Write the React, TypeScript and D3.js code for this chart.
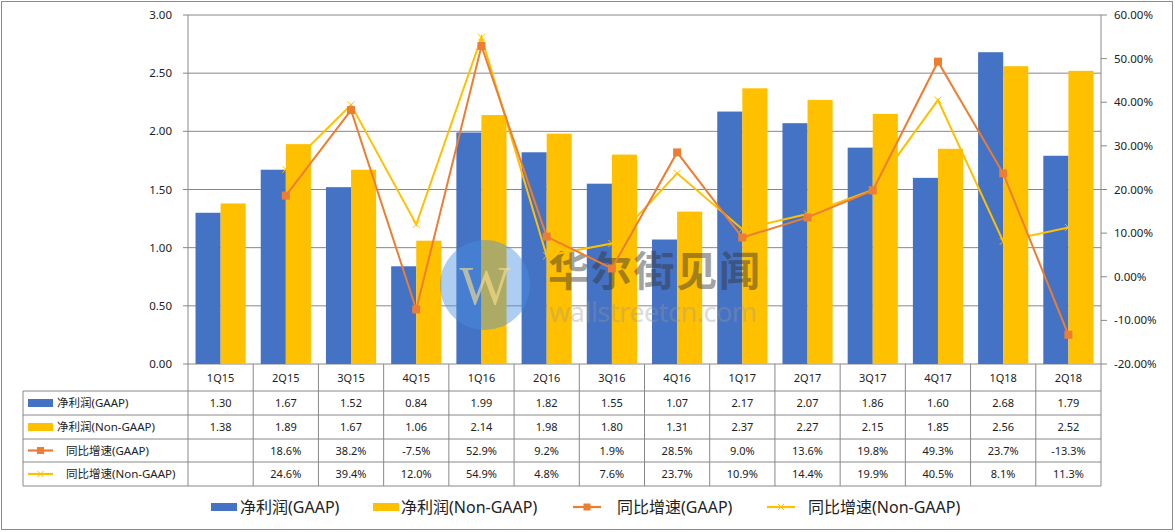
import * as d3 from 'd3';

const categories = ['1Q15', '2Q15', '3Q15', '4Q15', '1Q16', '2Q16', '3Q16', '4Q16', '1Q17', '2Q17', '3Q17', '4Q17', '1Q18', '2Q18'];
const netGaap = [1.30, 1.67, 1.52, 0.84, 1.99, 1.82, 1.55, 1.07, 2.17, 2.07, 1.86, 1.60, 2.68, 1.79];
const netNonGaap = [1.38, 1.89, 1.67, 1.06, 2.14, 1.98, 1.80, 1.31, 2.37, 2.27, 2.15, 1.85, 2.56, 2.52];
const growthGaap = [null, 18.6, 38.2, -7.5, 52.9, 9.2, 1.9, 28.5, 9.0, 13.6, 19.8, 49.3, 23.7, -13.3];
const growthNonGaap = [null, 24.6, 39.4, 12.0, 54.9, 4.8, 7.6, 23.7, 10.9, 14.4, 19.9, 40.5, 8.1, 11.3];
const leftTicks = [0, 0.5, 1, 1.5, 2, 2.5, 3];
const rightTicks = [-20, -10, 0, 10, 20, 30, 40, 50, 60];

const BLUE = '#4472C4';
const YELLOW = '#FFC000';
const ORANGE = '#ED7D31';
const GRID = '#888888';
const FONT = "'Noto Sans', 'Noto Sans CJK SC', sans-serif";

const seriesNames = ['净利润(GAAP)', '净利润(Non-GAAP)', '同比增速(GAAP)', '同比增速(Non-GAAP)'];

export default function App() {
  const W = 1175, H = 532;
  const left = 188, right = 1101, top = 15, bottom = 364;

  const x = d3.scaleBand<string>().domain(categories).range([left, right]);
  const sub = d3.scaleBand<string>().domain(['g', 'n']).range([0, x.bandwidth()]).paddingOuter(0.3);
  const y = d3.scaleLinear().domain([0, 3]).range([bottom, top]);
  const y2 = d3.scaleLinear().domain([-20, 60]).range([bottom, top]);

  const cx = (i: number) => (x(categories[i]) as number) + x.bandwidth() / 2;
  const line = d3.line<number | null>()
    .defined(d => d !== null)
    .x((_, i) => cx(i))
    .y(d => y2(d as number));

  const rowLines = [364, 391, 415, 439, 462, 486];
  const tableLeft = 23;
  const rowData: (number | null)[][] = [netGaap, netNonGaap, growthGaap, growthNonGaap];
  const fmtRow = (r: number, v: number | null) =>
    v === null ? '' : r < 2 ? v.toFixed(2) : `${v.toFixed(1)}%`;

  const symbol = (kind: number, x0: number, yc: number, len = 26) => {
    if (kind === 0) return <rect x={x0} y={yc - 4} width={len} height={8} fill={BLUE} />;
    if (kind === 1) return <rect x={x0} y={yc - 4} width={len} height={8} fill={YELLOW} />;
    if (kind === 2)
      return (
        <g>
          <line x1={x0} x2={x0 + len} y1={yc} y2={yc} stroke={ORANGE} strokeWidth={2.2} />
          <rect x={x0 + len / 2 - 3.5} y={yc - 3.5} width={7} height={7} fill={ORANGE} />
        </g>
      );
    return (
      <g>
        <line x1={x0} x2={x0 + len} y1={yc} y2={yc} stroke={YELLOW} strokeWidth={2.2} />
        <path d={`M${x0 + len / 2 - 3},${yc - 3}L${x0 + len / 2 + 3},${yc + 3}M${x0 + len / 2 - 3},${yc + 3}L${x0 + len / 2 + 3},${yc - 3}`} stroke={YELLOW} strokeWidth={1} />
      </g>
    );
  };

  const legendItems = [
    { k: 0, sx: 211, tx: 240 },
    { k: 1, sx: 373, tx: 401 },
    { k: 2, sx: 573, tx: 617 },
    { k: 3, sx: 767, tx: 808 },
  ];

  return (
    <svg width={W} height={H} style={{ position: 'absolute', left: 0, top: 0, fontFamily: FONT }}>
      <rect x={1.5} y={1.5} width={1171} height={528} fill="#fff" stroke="#8c8c8c" />

      {/* gridlines and left ticks */}
      {leftTicks.map(t => (
        <g key={t}>
          <line x1={left - 5} x2={right} y1={y(t)} y2={y(t)} stroke={GRID} strokeWidth={1} />
          <text x={left - 16} y={y(t) + 4} textAnchor="end" fontSize={11.5} fill="#222">{t.toFixed(2)}</text>
        </g>
      ))}
      <line x1={left} x2={left} y1={top} y2={bottom} stroke={GRID} />
      <line x1={right} x2={right} y1={top} y2={bottom} stroke={GRID} />
      {rightTicks.map(t => (
        <g key={t}>
          <line x1={right} x2={right + 6} y1={y2(t)} y2={y2(t)} stroke={GRID} />
          <text x={right + 13} y={y2(t) + 4} fontSize={11.5} fill="#222">{`${t.toFixed(2)}%`}</text>
        </g>
      ))}

      {/* bars */}
      {categories.map((c, i) => (
        <g key={c} transform={`translate(${x(c)},0)`}>
          <rect x={sub('g')} y={y(netGaap[i])} width={sub.bandwidth()} height={bottom - y(netGaap[i])} fill={BLUE} />
          <rect x={sub('n')} y={y(netNonGaap[i])} width={sub.bandwidth()} height={bottom - y(netNonGaap[i])} fill={YELLOW} />
        </g>
      ))}

      {/* watermark */}
      <g pointerEvents="none">
        <circle cx={485} cy={285} r={45} fill="#4A90E2" opacity={0.45} />
        <text x={485} y={304} textAnchor="middle" fontSize={54} fontFamily="'Liberation Serif', serif" fill="#FFE38A" opacity={0.6}>W</text>
        <text x={548} y={286} fontSize={41} fontFamily="'Noto Sans CJK SC', sans-serif" fontWeight={700} fill="#333" opacity={0.45} textLength={212}>华尔街见闻</text>
        <text x={549} y={322} fontSize={27} fill="#999" opacity={0.35} textLength={208}>wallstreetcn.com</text>
      </g>

      {/* lines */}
      <path d={line(growthNonGaap) || ''} fill="none" stroke={YELLOW} strokeWidth={2} />
      {growthNonGaap.map((v, i) => v === null ? null : (
        <path key={i} d={`M${cx(i) - 3.5},${y2(v) - 3.5}L${cx(i) + 3.5},${y2(v) + 3.5}M${cx(i) - 3.5},${y2(v) + 3.5}L${cx(i) + 3.5},${y2(v) - 3.5}`} stroke={YELLOW} strokeWidth={1} />
      ))}
      <path d={line(growthGaap) || ''} fill="none" stroke={ORANGE} strokeWidth={2} />
      {growthGaap.map((v, i) => v === null ? null : (
        <rect key={i} x={cx(i) - 4} y={y2(v) - 4} width={8} height={8} fill={ORANGE} />
      ))}

      {/* data table */}
      {rowLines.slice(1).map(r => (
        <line key={r} x1={tableLeft} x2={right} y1={r} y2={r} stroke={GRID} />
      ))}
      <line x1={tableLeft} x2={tableLeft} y1={rowLines[1]} y2={rowLines[5]} stroke={GRID} />
      {categories.map(c => (
        <line key={c} x1={x(c)} x2={x(c)} y1={bottom} y2={rowLines[5]} stroke={GRID} />
      ))}
      <line x1={right} x2={right} y1={bottom} y2={rowLines[5]} stroke={GRID} />
      {categories.map(c => (
        <text key={c} x={(x(c) as number) + x.bandwidth() / 2} y={382} textAnchor="middle" fontSize={11} fill="#222">{c}</text>
      ))}
      {rowData.map((row, r) => {
        const yc = (rowLines[r + 1] + rowLines[r + 2]) / 2;
        return (
          <g key={r}>
            {symbol(r, 28, yc, 25)}
            <text x={r < 2 ? 57 : 66} y={yc + 4} fontSize={11.5} fill="#222">{seriesNames[r]}</text>
            {row.map((v, i) => (
              <text key={i} x={cx(i)} y={yc + 4} textAnchor="middle" fontSize={11} fill="#222">{fmtRow(r, v)}</text>
            ))}
          </g>
        );
      })}

      {/* legend */}
      {legendItems.map(it => (
        <g key={it.k}>
          {symbol(it.k, it.sx, 507, it.k < 2 ? 26 : 28)}
          <text x={it.tx} y={513} fontSize={16} fill="#222">{seriesNames[it.k]}</text>
        </g>
      ))}
    </svg>
  );
}
